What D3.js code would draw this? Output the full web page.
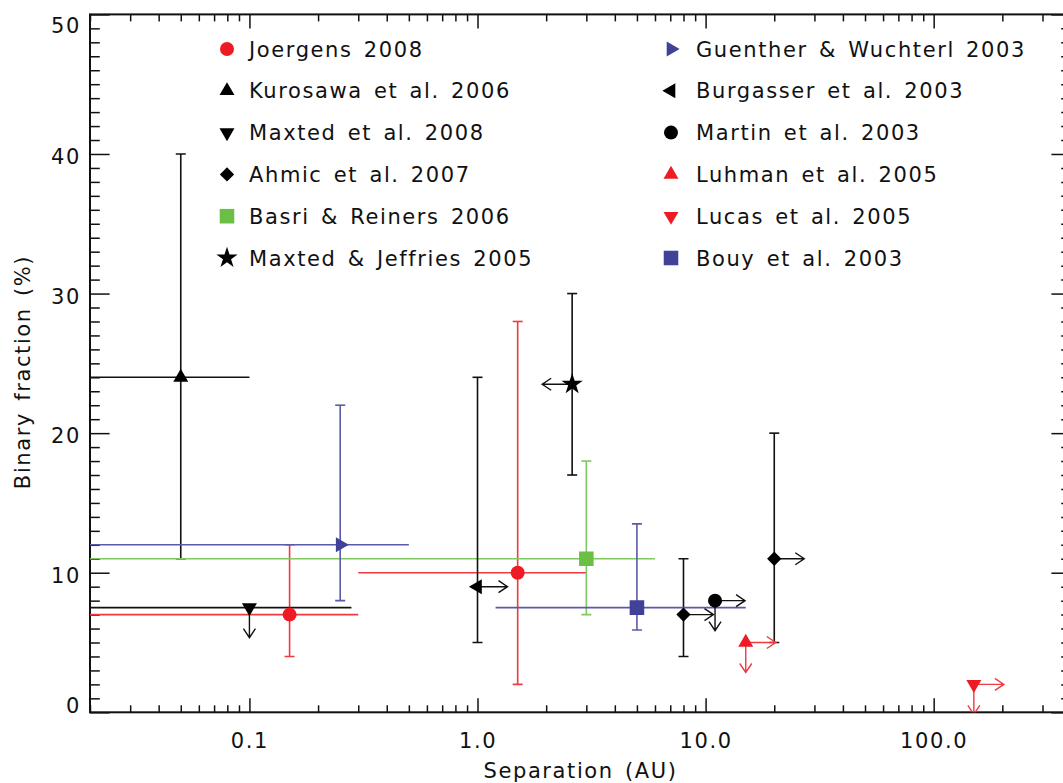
<!DOCTYPE html>
<html><head><meta charset="utf-8">
<script src="https://cdn.jsdelivr.net/npm/d3@7"></script>
<style>
body{margin:0;background:#fff}
text{font-family:"DejaVu Sans",sans-serif;fill:#111}
</style>
</head><body>
<svg id="chart" width="1063" height="783"></svg>
<script>
// ---------- data ----------
const xDomain = [0.02, 400];
const yDomain = [0, 50];
const xMajorTicks = [0.1, 1, 10, 100];
const yMajorTicks = [0, 10, 20, 30, 40, 50];
const xTitle = "Separation (AU)";
const yTitle = "Binary fraction (%)";

const legendNames = [
  "Joergens 2008", "Kurosawa et al. 2006", "Maxted et al. 2008",
  "Ahmic et al. 2007", "Basri & Reiners 2006", "Maxted & Jeffries 2005",
  "Guenther & Wuchterl 2003", "Burgasser et al. 2003", "Martin et al. 2003",
  "Luhman et al. 2005", "Lucas et al. 2005", "Bouy et al. 2003"
];

// xLo of 0.01 = range extends past the left edge of the plot
const joergens2008 = [
  {x: 0.15, y: 7,  yLo: 4, yHi: 12, xLo: 0.01, xHi: 0.3},
  {x: 1.5,  y: 10, yLo: 2, yHi: 28, xLo: 0.3,  xHi: 3}
];
const kurosawa2006 = [{x: 0.05, y: 24, yLo: 11, yHi: 40, xLo: 0.01, xHi: 0.1}];
const maxted2008 = [{x: 0.1, y: 7.5, xLo: 0.01, xHi: 0.28, limits: ["down"]}];
const ahmic2007 = [
  {x: 8,  y: 7,  yLo: 4, yHi: 11, limits: ["right"]},
  {x: 20, y: 11, yLo: 5, yHi: 20, limits: ["right"]}
];
const basri2006 = [{x: 3, y: 11, yLo: 7, yHi: 18, xLo: 0.01, xHi: 6}];
const maxtedJeffries2005 = [{x: 2.6, y: 23.5, yLo: 17, yHi: 30, limits: ["left"]}];
const guenther2003 = [{x: 0.25, y: 12, yLo: 8, yHi: 22, xLo: 0.01, xHi: 0.5}];
const burgasser2003 = [{x: 1, y: 9, yLo: 5, yHi: 24, limits: ["right"]}];
const martin2003 = [{x: 11, y: 8, limits: ["right", "down"]}];
const luhman2005 = [{x: 15, y: 5, limits: ["right", "down"]}];
const lucas2005 = [{x: 150, y: 2, limits: ["right", "down"]}];
const bouy2003 = [{x: 5, y: 7.5, yLo: 5.9, yHi: 13.5, xLo: 1.2, xHi: 15}];

const seriesData = [joergens2008, kurosawa2006, maxted2008, ahmic2007, basri2006,
  maxtedJeffries2005, guenther2003, burgasser2003, martin2003, luhman2005, lucas2005, bouy2003];

// ---------- styles ----------
const RED = "#ed1c24", BLACK = "#000", GREEN = "#6cbf45", BLUE = "#414197";
const LINE = {"#ed1c24": "#ef3a40", "#000": "#111", "#6cbf45": "#80c860", "#414197": "#5a5aa8"};
const seriesStyle = [
  {color: RED,   shape: "circle"},
  {color: BLACK, shape: "triUp"},
  {color: BLACK, shape: "triDown"},
  {color: BLACK, shape: "diamond"},
  {color: GREEN, shape: "square"},
  {color: BLACK, shape: "star"},
  {color: BLUE,  shape: "triRight"},
  {color: BLACK, shape: "triLeft"},
  {color: BLACK, shape: "circle"},
  {color: RED,   shape: "triUp"},
  {color: RED,   shape: "triDown"},
  {color: BLUE,  shape: "square"}
];

const svg = d3.select("#chart");
const m = {left: 90, right: 1071, top: 14.4, bottom: 712.3};
const x = d3.scaleLog().domain(xDomain).range([m.left, m.right]);
const y = d3.scaleLinear().domain(yDomain).range([m.bottom, m.top]);

const FS = 21, LS = 1.6, WS = 3;

// ---------- axes ----------
const xMinor = [];
for (let e = -2; e <= 2; e++) for (let k = 1; k <= 9; k++) {
  const v = k * Math.pow(10, e);
  if (v >= xDomain[0] && v <= xDomain[1] && !xMajorTicks.some(t => Math.abs(t - v) < 1e-9)) xMinor.push(+v.toPrecision(3));
}
const yMinor = d3.range(0, 51, 1).filter(v => v % 10 !== 0);

function styleAxis(g) {
  g.select(".domain").remove();
  g.selectAll("line").attr("stroke", "#111").attr("stroke-width", 1.5);
  g.selectAll("text").attr("font-size", FS).attr("letter-spacing", LS)
    .style("font-family", '"DejaVu Sans",sans-serif').attr("fill", "#111");
}
// bottom
svg.append("g").attr("transform", `translate(0,${m.bottom})`)
  .call(d3.axisBottom(x).tickValues(xMinor).tickSize(-7).tickFormat(""))
  .call(styleAxis);
svg.append("g").attr("transform", `translate(0,${m.bottom})`)
  .call(d3.axisBottom(x).tickValues(xMajorTicks).tickSize(-14).tickPadding(21).tickFormat(d3.format(".1f")))
  .call(styleAxis);
// top
svg.append("g").attr("transform", `translate(0,${m.top})`)
  .call(d3.axisTop(x).tickValues(xMinor).tickSize(-7).tickFormat("")).call(styleAxis);
svg.append("g").attr("transform", `translate(0,${m.top})`)
  .call(d3.axisTop(x).tickValues(xMajorTicks).tickSize(-14).tickFormat("")).call(styleAxis);
// left
svg.append("g").attr("transform", `translate(${m.left},0)`)
  .call(d3.axisLeft(y).tickValues(yMinor).tickSize(-9.8).tickFormat("")).call(styleAxis);
const yl = svg.append("g").attr("transform", `translate(${m.left},0)`)
  .call(d3.axisLeft(y).tickValues(yMajorTicks).tickSize(-19.6).tickPadding(9).tickFormat(d3.format("d")))
  .call(styleAxis);
yl.selectAll(".tick text").attr("dy", d => d === 50 ? "0.85em" : d === 0 ? "0.0em" : "0.45em");
// right
svg.append("g").attr("transform", `translate(${m.right},0)`)
  .call(d3.axisRight(y).tickValues(yMinor).tickSize(-9.8).tickFormat("")).call(styleAxis);
svg.append("g").attr("transform", `translate(${m.right},0)`)
  .call(d3.axisRight(y).tickValues(yMajorTicks).tickSize(-19.6).tickFormat("")).call(styleAxis);

// frame
svg.append("rect").attr("x", m.left).attr("y", m.top)
  .attr("width", m.right - m.left).attr("height", m.bottom - m.top)
  .attr("fill", "none").attr("stroke", "#111").attr("stroke-width", 2);

// titles
svg.append("text").attr("x", (m.left + m.right) / 2).attr("y", 778)
  .attr("text-anchor", "middle").attr("font-size", FS).attr("letter-spacing", LS)
  .attr("word-spacing", WS).text(xTitle);
svg.append("text").attr("transform", "translate(30,372) rotate(-90)")
  .attr("text-anchor", "middle").attr("font-size", FS).attr("letter-spacing", LS)
  .attr("word-spacing", WS).text(yTitle);

// ---------- symbols ----------
function symbolPath(shape) {
  switch (shape) {
    case "circle": return {d: d3.symbol(d3.symbolCircle, Math.PI * 49)(), rot: 0};
    case "square": return {d: d3.symbol(d3.symbolSquare, 212)(), rot: 0};
    case "diamond": return {d: d3.symbol(d3.symbolSquare, 102)(), rot: 45};
    case "star": return {d: d3.symbol(d3.symbolStar, 140)(), rot: 0};
    case "triUp": return {d: d3.symbol(d3.symbolTriangle, 97)(), rot: 0};
    case "triDown": return {d: d3.symbol(d3.symbolTriangle, 97)(), rot: 180};
    case "triRight": return {d: d3.symbol(d3.symbolTriangle, 97)(), rot: 90};
    case "triLeft": return {d: d3.symbol(d3.symbolTriangle, 97)(), rot: -90};
  }
}

// ---------- data layer ----------
svg.append("clipPath").attr("id", "plotClip").append("rect")
  .attr("x", m.left).attr("y", m.top).attr("width", m.right - m.left).attr("height", m.bottom - m.top);
const plot = svg.append("g").attr("clip-path", "url(#plotClip)");
const gErr = plot.append("g"), gArr = plot.append("g"), gMark = plot.append("g");
const CAP = 5, ALEN = 30, AHB = 9, AHW = 6;

seriesData.forEach((pts, i) => {
  const st = seriesStyle[i];
  const lc = LINE[st.color];
  pts.forEach(p => {
    const px = x(p.x), py = y(p.y);
    if (p.xLo !== undefined) {
      gErr.append("line").attr("x1", x(p.xLo)).attr("x2", x(p.xHi)).attr("y1", py).attr("y2", py)
        .attr("stroke", lc).attr("stroke-width", 1.6);
    }
    if (p.yLo !== undefined) {
      gErr.append("line").attr("x1", px).attr("x2", px).attr("y1", y(p.yLo)).attr("y2", y(p.yHi))
        .attr("stroke", lc).attr("stroke-width", 1.6);
      [p.yLo, p.yHi].forEach(v => gErr.append("line").attr("x1", px - CAP).attr("x2", px + CAP)
        .attr("y1", y(v)).attr("y2", y(v)).attr("stroke", lc).attr("stroke-width", 1.6));
    }
    (p.limits || []).forEach(dir => {
      const v = {right: [1, 0], left: [-1, 0], down: [0, 1]}[dir];
      const ex = px + v[0] * ALEN, ey = py + v[1] * ALEN;
      const bx = ex - v[0] * AHB, by = ey - v[1] * AHB;
      const nx = -v[1], ny = v[0];
      gArr.append("path")
        .attr("d", `M${px},${py}L${ex},${ey}M${bx + nx * AHW},${by + ny * AHW}L${ex},${ey}L${bx - nx * AHW},${by - ny * AHW}`)
        .attr("fill", "none").attr("stroke", lc).attr("stroke-width", 1.4);
    });
    const s = symbolPath(st.shape);
    gMark.append("path").attr("d", s.d).attr("transform", `translate(${px},${py}) rotate(${s.rot})`)
      .attr("fill", st.color);
  });
});

// ---------- legend ----------
const legCols = [{mx: 227, tx: 249}, {mx: 671, tx: 696}];
const legRowY0 = 49, legRowStep = 41.8;
legendNames.forEach((name, i) => {
  const col = legCols[Math.floor(i / 6)], row = i % 6;
  const ly = legRowY0 + row * legRowStep;
  const s = symbolPath(seriesStyle[i].shape);
  svg.append("path").attr("d", s.d).attr("transform", `translate(${col.mx},${ly}) rotate(${s.rot})`)
    .attr("fill", seriesStyle[i].color);
  svg.append("text").attr("x", col.tx).attr("y", ly).attr("dy", "0.36em")
    .attr("font-size", FS).attr("letter-spacing", LS).attr("word-spacing", WS).text(name);
});
</script>
</body></html>
